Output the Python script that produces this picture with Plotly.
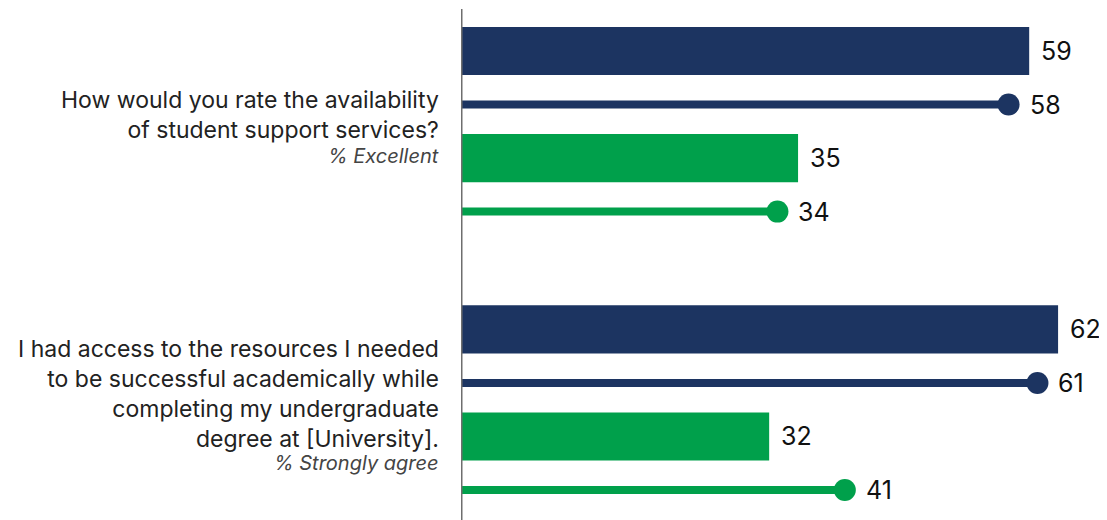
import plotly.graph_objects as go

# ---- data ----
questions = [
    "How would you rate the availability<br>of student support services?",
    "I had access to the resources I needed<br>to be successful academically while<br>completing my undergraduate<br>degree at [University].",
]
subtitles = ["% Excellent", "% Strongly agree"]
navy_bar = [59, 62]
navy_lollipop = [58, 61]
green_bar = [35, 32]
green_lollipop = [34, 41]

NAVY = "#1c3461"
GREEN = "#00a04b"
OFF = 8                      # page body margin
W, H = 1107 - OFF, 520 - OFF  # figure size
AXIS_X = 461 - OFF           # x=0 pixel within figure
X_MAX = 67.08
PX_PER_UNIT = (W - AXIS_X) / X_MAX
DOT = 22                     # marker diameter px
dot_off = (DOT / 2) / PX_PER_UNIT

# y axis: row pitch ~53.54 px, first row centre at window y=51
ROW_PX = 53.54
Y_TOP = -(51 - OFF) / ROW_PX
Y_BOT = Y_TOP + H / ROW_PX

group_start = [0.0, 5.2]

fig = go.Figure()
annotations = []

for g in range(2):
    y0 = group_start[g]
    rows = [
        ("bar", navy_bar[g], NAVY, y0),
        ("lol", navy_lollipop[g], NAVY, y0 + 1),
        ("bar", green_bar[g], GREEN, y0 + 2),
        ("lol", green_lollipop[g], GREEN, y0 + 3),
    ]
    for kind, v, c, y in rows:
        if kind == "bar":
            fig.add_trace(go.Bar(x=[v], y=[y], orientation="h", width=0.9,
                                 marker=dict(color=c, line=dict(width=0)),
                                 showlegend=False, hoverinfo="skip"))
            shift = 10
        else:
            fig.add_trace(go.Scatter(x=[0, v - dot_off], y=[y, y], mode="lines",
                                     line=dict(color=c, width=8),
                                     showlegend=False, hoverinfo="skip"))
            fig.add_trace(go.Scatter(x=[v - dot_off], y=[y], mode="markers",
                                     marker=dict(color=c, size=DOT, line=dict(width=0)),
                                     showlegend=False, hoverinfo="skip"))
            shift = 8
        annotations.append(dict(x=v, y=y, xref="x", yref="y", text=str(v),
                                showarrow=False, xanchor="left", yanchor="middle",
                                xshift=shift, font=dict(family="Inter", size=25, color="#111")))

# question labels (window pixel positions)
TEXT_RIGHT = 441
q_top = [84, 333]
sub_top = [142, 449]
for g in range(2):
    annotations.append(dict(x=TEXT_RIGHT - OFF, y=H - (q_top[g] - OFF), xref="paper", yref="paper",
                            text=questions[g], showarrow=False, xanchor="right", yanchor="top",
                            align="right", font=dict(family="Inter", size=23, color="#222222")))
    annotations.append(dict(x=TEXT_RIGHT - OFF, y=H - (sub_top[g] - OFF), xref="paper", yref="paper",
                            text="<i>" + subtitles[g] + "</i>", showarrow=False,
                            xanchor="right", yanchor="top", align="right",
                            font=dict(family="Inter", size=20, color="#444")))

# convert pixel positions to paper fractions (plot area spans whole figure horizontally from AXIS_X)
for a in annotations:
    if a["xref"] == "paper":
        a["x"] = (a["x"] - AXIS_X) / (W - AXIS_X)
        a["y"] = a["y"] / H

fig.update_layout(
    width=W, height=H,
    margin=dict(l=AXIS_X, r=0, t=0, b=0),
    paper_bgcolor="white", plot_bgcolor="white",
    barmode="overlay",
    xaxis=dict(range=[0, X_MAX], visible=False, fixedrange=True),
    yaxis=dict(range=[Y_BOT, Y_TOP], visible=False, fixedrange=True),
    annotations=annotations,
    shapes=[dict(type="line", xref="x", yref="paper", x0=0, x1=0, y0=0, y1=1 - (9 - OFF) / H,
                 line=dict(color="#6e6e6e", width=3), layer="above")],
)

fig.write_html("out.html", config={"displayModeBar": False})
